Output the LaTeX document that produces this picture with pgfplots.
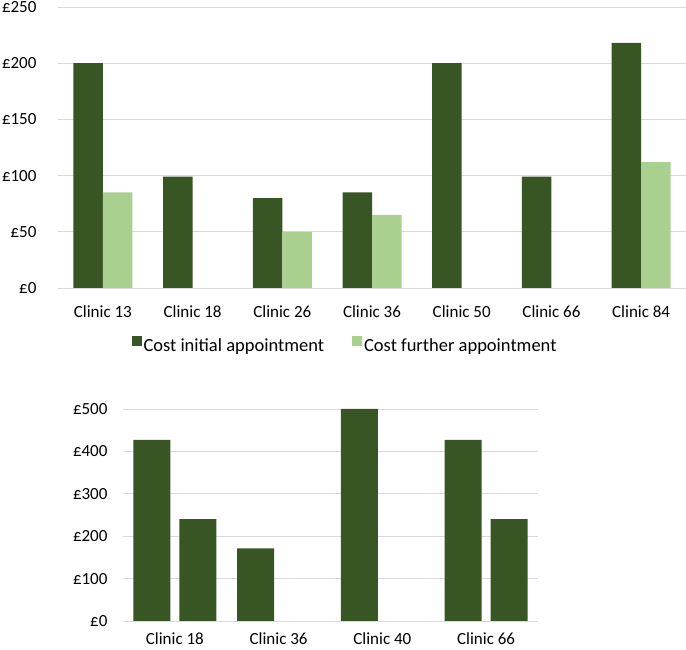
\documentclass[border=0pt]{standalone}
\usepackage{fontspec}
\setmainfont{Carlito}
\usepackage{pgfplots}
\pgfplotsset{compat=1.18}
\definecolor{darkg}{HTML}{375623}
\definecolor{lightg}{HTML}{A9D08E}
\definecolor{gridg}{HTML}{D9D9D9}
\begin{document}
\begin{tikzpicture}
\useasboundingbox (0pt,0pt) rectangle (686pt,650pt);
\pgfplotsset{
  every axis/.append style={
    scale only axis,
    axis line style={draw=none},
    major tick length=0pt,
    ymajorgrids,
    grid style={gridg, line width=0.8pt},
    tick label style={font=\fontsize{17}{20}\selectfont, text=black},
    xtick=data,
    ymin=0,
    clip=false,
  },
}
% Top chart
\begin{axis}[
  at={(58pt,362pt)}, anchor=south west,
  width=628pt, height=281pt,
  ybar=0pt, bar width=29.5pt,
  xmin=-0.5, xmax=6.5,
  ymax=250,
  ytick={0,50,100,150,200,250},
  yticklabels={£0,£50,£100,£150,£200,£250},
  xticklabels={Clinic 13,Clinic 18,Clinic 26,Clinic 36,Clinic 50,Clinic 66,Clinic 84},
  yticklabel style={xshift=-18pt},
  xticklabel style={yshift=-14pt},
  legend columns=2,
  legend style={at={(0.457,-0.206)}, anchor=center, draw=none,
    font=\fontsize{18.5}{22}\selectfont,
    /tikz/every even column/.append style={column sep=26pt}},
  legend image code/.code={\fill[#1] (0pt,0pt) rectangle (10pt,10pt);},
]
\addplot[fill=darkg, draw=none] coordinates {(0,200) (1,99) (2,80) (3,85) (4,200) (5,99) (6,218)};
\addplot[fill=lightg, draw=none] coordinates {(0,85) (2,50) (3,65) (6,112)};
\legend{Cost initial appointment, Cost further appointment}
\end{axis}
% Bottom chart
\begin{axis}[
  at={(123pt,29pt)}, anchor=south west,
  width=415pt, height=212pt,
  ybar=9pt, bar width=37pt,
  xmin=-0.5, xmax=3.5,
  ymax=500,
  ytick={0,100,200,300,400,500},
  yticklabels={£0,£100,£200,£300,£400,£500},
  xticklabels={Clinic 18,Clinic 36,Clinic 40,Clinic 66},
  yticklabel style={xshift=-12pt},
  xticklabel style={yshift=-8pt},
]
\addplot[fill=darkg, draw=none] coordinates {(0,427) (1,171) (2,500) (3,427)};
\addplot[fill=darkg, draw=none] coordinates {(0,240) (3,240)};
\end{axis}
\end{tikzpicture}
\end{document}
